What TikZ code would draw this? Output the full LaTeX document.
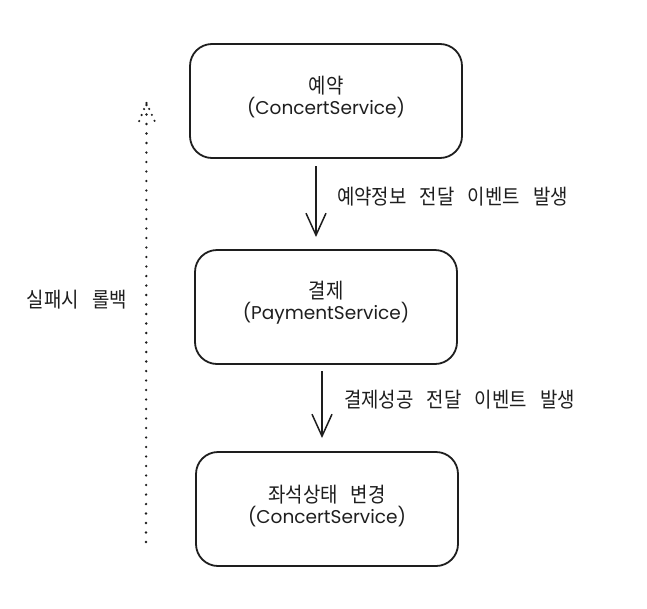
\documentclass[tikz,border=0pt]{standalone}
\usepackage{fontspec}
\setmainfont{Noto Sans CJK KR}
\newfontfamily\kr[FakeStretch=0.9,WordSpace=3.1]{Noto Sans CJK KR}
\newfontfamily\hand{Poppins}
\usetikzlibrary{arrows.meta}
\definecolor{ink}{HTML}{1E1E1E}
\tikzset{
  box/.style={draw=ink, line width=1.8pt, rounded corners=22pt, minimum width=#1, minimum height=114pt, align=center, text=ink, inner sep=0pt},
  lbl/.style={text=ink, anchor=west, font=\kr\fontsize{21}{24}\selectfont, inner sep=0pt},
  flow/.style={draw=ink, line width=1.5pt, -{Straight Barb[length=22pt,width=20pt,line width=1.5pt]}},
  dotline/.style={draw=ink, line width=2.6pt, dash pattern=on 0pt off 9.5pt, line cap=round},
  dothead/.style={draw=ink, line width=2.4pt, dash pattern=on 0pt off 6.5pt, line cap=round}
}
\newcommand{\boxtext}[2]{{\kr\fontsize{21}{24}\selectfont #1}\\[1pt]{\hand\fontsize{18.5}{22}\selectfont #2}}
\begin{document}
\begin{tikzpicture}[x=1pt,y=-1pt]
\useasboundingbox (0,0) rectangle (647,608);
\node[box=272pt] (b1) at (326,101) {};
\node (t1) at (326,97) [align=center, text=ink, inner sep=0pt] {\boxtext{예약}{(ConcertService)}};
\node[box=262pt] (b2) at (326,307) {};
\node (t2) at (326,303) [align=center, text=ink, inner sep=0pt] {\boxtext{결제}{(PaymentService)}};
\node[box=262pt] (b3) at (327,509) {};
\node (t3) at (327,506) [align=center, text=ink, inner sep=0pt] {\boxtext{좌석상태 변경}{(ConcertService)}};
\coordinate (a1s) at (316,166);
\coordinate (a1e) at (316,237);
\draw[flow] (a1s) -- (a1e);
\node[lbl] (l1) at (337,197) {예약정보 전달 이벤트 발생};
\coordinate (a2s) at (322,371);
\coordinate (a2e) at (322,438);
\draw[flow] (a2s) -- (a2e);
\node[lbl] (l2) at (344,400) {결제성공 전달 이벤트 발생};
\coordinate (rs) at (146,542);
\coordinate (re) at (146.5,103);
\coordinate (wl) at (138,124);
\coordinate (wr) at (156,124);
\draw[dotline] (rs) -- (re);
\draw[dothead] (re) -- (wl);
\draw[dothead] (re) -- (wr);
\node[lbl, anchor=east] (l3) at (127,300) {실패시 롤백};
\end{tikzpicture}
\end{document}
